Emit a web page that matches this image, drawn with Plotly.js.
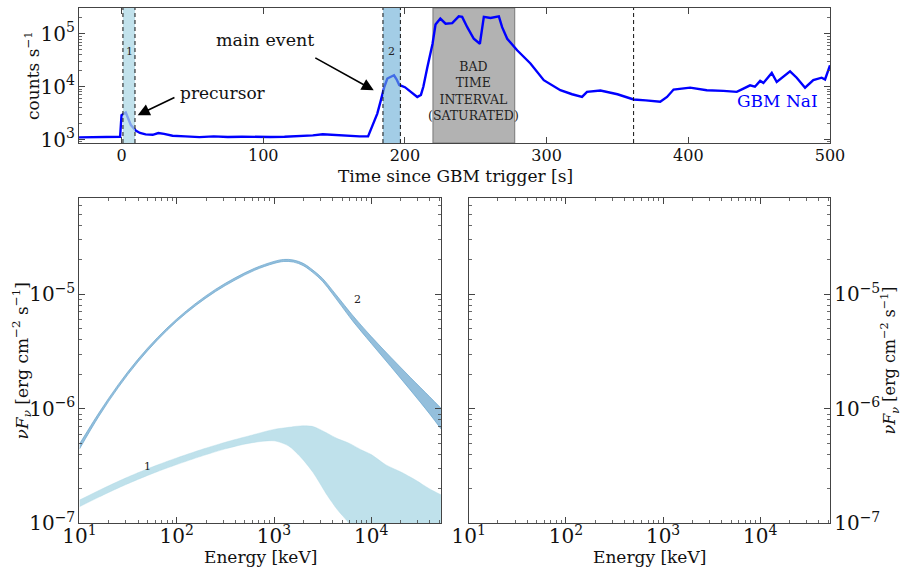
<!DOCTYPE html>
<html>
<head>
<meta charset="utf-8">
<script src="https://cdn.plot.ly/plotly-3.0.1.min.js"></script>
<style>html,body{margin:0;padding:0;background:#fff;}#chart{width:901px;height:568px;}</style>
</head>
<body>
<div id="chart"></div>
<script>
// ---------- Light curve (GBM NaI) ----------
const lcTime = [-30, -20, -10, -1, 0, 3, 6.5, 10, 13, 17, 22, 26, 30, 36, 45, 55, 65, 75, 85, 95, 105, 115, 125, 135, 142, 150, 160, 168, 174, 177, 180.5, 183, 185.5, 187.6, 190, 192.3, 194, 196, 200, 204, 208.7, 211.3, 213, 215.8, 218, 219.5, 221.6, 225, 228.7, 233.4, 238, 240.4, 244, 248.6, 252.9, 255.7, 260.4, 266.3, 268.6, 272.2, 279.2, 288.6, 298, 309.7, 318, 325, 328.5, 338, 350, 361.4, 370, 380.2, 385, 389.6, 401.3, 413, 424.8, 434.2, 438.9, 443.6, 447, 450.7, 453, 455.4, 458.9, 462.4, 467.1, 471.8, 476.5, 482.4, 488.2, 494.1, 496.5, 500];
const lcRate = [1100, 1110, 1100, 1130, 2900, 3250, 1900, 1480, 1330, 1250, 1230, 1330, 1280, 1180, 1150, 1110, 1150, 1120, 1130, 1110, 1120, 1130, 1150, 1200, 1260, 1220, 1180, 1150, 1150, 1800, 3100, 5500, 10000, 14300, 15500, 16500, 14000, 10800, 9800, 8200, 6400, 7000, 10000, 23000, 40000, 65000, 150000, 195000, 156000, 160000, 215000, 210000, 134000, 81000, 65000, 210000, 200000, 215000, 134000, 81000, 49000, 27600, 13300, 8600, 7200, 6400, 8000, 8450, 7200, 5740, 5500, 5180, 6400, 8850, 9600, 8600, 8350, 8000, 9200, 10600, 10000, 12900, 11800, 14300, 18200, 12300, 15300, 19600, 14800, 9600, 13300, 14800, 13700, 25400];

// time intervals [start, end] in s
const interval1 = [1, 9.5];
const interval2 = [184.5, 196.8];
const badInterval = [219.8, 277.5];
const extraLine = 361.4;

// ---------- Spectra (nuFnu, erg cm^-2 s^-1) ----------
const spec2Energy = [10, 15.85, 25.12, 39.81, 63.1, 100, 158.5, 251.2, 398.1, 631, 1000, 1259, 1585, 1995, 2512, 3162, 3981, 5012, 6310, 10000, 15849, 25119, 39811, 52000];
const spec2Upper = [4.92e-7, 9.23e-7, 1.633e-6, 2.704e-6, 4.178e-6, 6.081e-6, 8.395e-6, 1.107e-5, 1.393e-5, 1.687e-5, 1.936e-5, 2.014e-5, 1.991e-5, 1.862e-5, 1.626e-5, 1.374e-5, 1.086e-5, 8.51e-6, 6.67e-6, 4.27e-6, 2.82e-6, 1.884e-6, 1.274e-6, 1.012e-6];
const spec2Lower = [4.45e-7, 8.61e-7, 1.538e-6, 2.559e-6, 3.972e-6, 5.808e-6, 8.017e-6, 1.057e-5, 1.330e-5, 1.618e-5, 1.858e-5, 1.932e-5, 1.910e-5, 1.778e-5, 1.545e-5, 1.294e-5, 1.009e-5, 7.76e-6, 5.97e-6, 3.72e-6, 2.34e-6, 1.462e-6, 9.02e-7, 6.68e-7];

const spec1Energy = [10, 15.85, 25.12, 39.81, 63.1, 100, 177.8, 316.2, 562.3, 1000, 1413, 1862, 2512, 3548, 4467, 5888, 7943, 10000, 14125, 19953, 28184, 39811, 52000];
const spec1Upper = [1.596e-7, 1.936e-7, 2.328e-7, 2.761e-7, 3.228e-7, 3.724e-7, 4.395e-7, 5.105e-7, 5.821e-7, 6.607e-7, 6.887e-7, 7.079e-7, 6.998e-7, 6.095e-7, 5.495e-7, 5.012e-7, 4.365e-7, 3.981e-7, 3.236e-7, 2.818e-7, 2.399e-7, 1.995e-7, 1.778e-7];
const spec1Lower = [1.396e-7, 1.694e-7, 2.037e-7, 2.415e-7, 2.825e-7, 3.258e-7, 3.846e-7, 4.467e-7, 5.012e-7, 5.248e-7, 4.732e-7, 3.819e-7, 2.786e-7, 1.738e-7, 1.318e-7, 1.0e-7, 6.61e-8, 4.79e-8, 3.02e-8, 1.905e-8, 1.122e-8, 7.08e-9, 5.01e-9];

const FONT = 'DejaVu Serif, serif';
const AX = '#444';
const c1 = 'rgba(173,216,230,0.75)';
const c2 = 'rgba(107,174,214,0.62)';
const cs1 = 'rgba(173,216,230,0.78)';
const cs2 = 'rgba(107,166,206,0.72)';
const TICKFONT = {family: FONT, size: 16, color: '#111'};
const NUFNU = '<i>νF</i><sub><i>ν</i></sub> [erg cm<sup>−2</sup> s<sup>−1</sup>]';

const traces = [
  {x: lcTime, y: lcRate, xaxis: 'x', yaxis: 'y', type: 'scatter', mode: 'lines',
   line: {color: '#0000ff', width: 2.4}, hoverinfo: 'skip'},
  // spectrum 1
  {x: spec1Energy, y: spec1Lower, xaxis: 'x2', yaxis: 'y3', type: 'scatter', mode: 'lines',
   line: {color: cs1, width: 0.5, shape: 'spline', smoothing: 0.8}, hoverinfo: 'skip'},
  {x: spec1Energy, y: spec1Upper, xaxis: 'x2', yaxis: 'y3', type: 'scatter', mode: 'lines',
   line: {color: cs1, width: 0.5, shape: 'spline', smoothing: 0.8}, fill: 'tonexty', fillcolor: cs1, hoverinfo: 'skip'},
  // spectrum 2
  {x: spec2Energy, y: spec2Lower, xaxis: 'x2', yaxis: 'y3', type: 'scatter', mode: 'lines',
   line: {color: cs2, width: 1, shape: 'spline'}, hoverinfo: 'skip'},
  {x: spec2Energy, y: spec2Upper, xaxis: 'x2', yaxis: 'y3', type: 'scatter', mode: 'lines',
   line: {color: cs2, width: 1, shape: 'spline'}, fill: 'tonexty', fillcolor: cs2, hoverinfo: 'skip'},
  // empty right panel
  {x: [], y: [], xaxis: 'x3', yaxis: 'y4', type: 'scatter', mode: 'lines'}
];

function logAxisCommon() {
  return {
    type: 'log', dtick: 1, exponentformat: 'power', showexponent: 'all',
    ticks: 'inside', ticklen: 6, tickwidth: 1, tickcolor: AX,
    minor: {ticks: 'inside', ticklen: 3, tickcolor: AX, tickwidth: 0.8},
    showline: true, linecolor: AX, linewidth: 1, mirror: 'allticks',
    showgrid: false, zeroline: false,
    labelalias: {'10': '10<sup>1</sup>'},
    tickfont: TICKFONT
  };
}

const yTop = logAxisCommon();
Object.assign(yTop, {domain: [0.7482, 0.9859], range: [2.934, 5.49], anchor: 'x'});
const yTopR = logAxisCommon();
Object.assign(yTopR, {domain: [0.7482, 0.9859], range: [2.934, 5.49], overlaying: 'y', side: 'right', anchor: 'x',
  showline: false, mirror: false, ticks: '', minor: {ticks: ''}});

const xBL = logAxisCommon();
Object.assign(xBL, {domain: [0.0882, 0.4895], range: [1, 4.717], anchor: 'y3', ticklabelstandoff: -4});
const yBL = logAxisCommon();
Object.assign(yBL, {domain: [0.0787, 0.6509], range: [-7, -4.162], anchor: 'x2'});
const xBR = logAxisCommon();
Object.assign(xBR, {domain: [0.5202, 0.9212], range: [1, 4.717], anchor: 'y4', ticklabelstandoff: -4});
const yBR = logAxisCommon();
Object.assign(yBR, {domain: [0.0787, 0.6509], range: [-7, -4.162], anchor: 'x3', side: 'right'});

function vline(x) {
  return {type: 'line', xref: 'x', yref: 'y domain', x0: x, x1: x, y0: 0, y1: 1,
    line: {color: '#111', width: 1, dash: '4px,3px'}, layer: 'above'};
}

function paperText(text, x, y, angle, size) {
  return {xref: 'paper', yref: 'paper', x: x, y: y, xanchor: 'center', yanchor: 'middle',
    text: text, textangle: angle || 0, showarrow: false, borderpad: 0,
    font: {family: FONT, size: size || 17, color: '#111'}};
}

const layout = {
  width: 901, height: 568,
  margin: {l: 0, r: 0, t: 0, b: 0},
  paper_bgcolor: '#fff', plot_bgcolor: '#fff',
  showlegend: false,
  font: {family: FONT, color: '#111'},
  xaxis: {domain: [0.0877, 0.9212], range: [-30, 500], anchor: 'y',
    tickvals: [0, 100, 200, 300, 400, 500], ticks: 'inside', ticklen: 6, tickcolor: AX,
    showline: true, linecolor: AX, linewidth: 1, mirror: 'allticks', showgrid: false, zeroline: false,
    tickfont: TICKFONT, ticklabelstandoff: -2},
  yaxis: yTop,
  yaxis2: yTopR,
  xaxis2: xBL, yaxis3: yBL,
  xaxis3: xBR, yaxis4: yBR,
  shapes: [
    {type: 'rect', xref: 'x', yref: 'y domain', x0: badInterval[0], x1: badInterval[1], y0: 0, y1: 1,
     fillcolor: 'rgb(178,178,178)', line: {color: 'rgb(120,120,120)', width: 1}, layer: 'below'},
    {type: 'rect', xref: 'x', yref: 'y domain', x0: interval1[0], x1: interval1[1], y0: 0, y1: 1,
     fillcolor: c1, line: {width: 0}, layer: 'above'},
    {type: 'rect', xref: 'x', yref: 'y domain', x0: interval2[0], x1: interval2[1], y0: 0, y1: 1,
     fillcolor: c2, line: {width: 0}, layer: 'above'},
    vline(interval1[0]), vline(interval1[1]), vline(interval2[0]), vline(interval2[1]), vline(extraLine)
  ],
  annotations: [
    // axis titles
    paperText('Time since GBM trigger [s]', 0.505, 0.691, 0),
    paperText('counts s<sup>−1</sup>', 0.0355, 0.868, -90),
    paperText('Energy [keV]', 0.2886, 0.0194, 0),
    paperText('Energy [keV]', 0.7209, 0.0194, 0),
    paperText(NUFNU, 0.0244, 0.3653, -90),
    paperText(NUFNU, 0.9878, 0.3653, -90, 16),
    // labels in panels
    {xref: 'x', yref: 'y', x: 5.3, y: 4.67, text: '1', showarrow: false, font: {family: FONT, size: 11, color: '#222'}},
    {xref: 'x', yref: 'y', x: 190.6, y: 4.67, text: '2', showarrow: false, font: {family: FONT, size: 11, color: '#222'}},
    {xref: 'x', yref: 'y', x: 248.6, y: 3.915, text: 'BAD<br>TIME<br>INTERVAL<br>(SATURATED)', showarrow: false,
     font: {family: FONT, size: 12.5, color: '#222'}},
    {xref: 'x', yref: 'y', x: 71.5, y: 3.877, text: 'precursor', showarrow: false, font: {family: FONT, size: 17, color: '#111'}},
    {xref: 'x', yref: 'y', x: 101.5, y: 4.877, text: 'main event', showarrow: false, font: {family: FONT, size: 17.5, color: '#111'}},
    {xref: 'x', yref: 'y', x: 11.4, y: 3.462, axref: 'x', ayref: 'y', ax: 38.4, ay: 3.81, text: '',
     showarrow: true, arrowhead: 2, arrowsize: 1.5, arrowwidth: 1.6, arrowcolor: '#000', standoff: 0},
    {xref: 'x', yref: 'y', x: 178, y: 3.934, axref: 'x', ayref: 'y', ax: 135.7, ay: 4.562, text: '',
     showarrow: true, arrowhead: 2, arrowsize: 1.5, arrowwidth: 1.6, arrowcolor: '#000', standoff: 0},
    {xref: 'x', yref: 'y', x: 463, y: 3.726, text: 'GBM NaI', showarrow: false, font: {family: FONT, size: 17, color: '#0000ff'}},
    {xref: 'x2', yref: 'y3', x: 1.696, y: -6.508, text: '1', showarrow: false, font: {family: FONT, size: 11, color: '#222'}},
    {xref: 'x2', yref: 'y3', x: 3.854, y: -5.05, text: '2', showarrow: false, font: {family: FONT, size: 11, color: '#222'}}
  ]
};

Plotly.newPlot('chart', traces, layout, {staticPlot: true, displayModeBar: false});
</script>
</body>
</html>
